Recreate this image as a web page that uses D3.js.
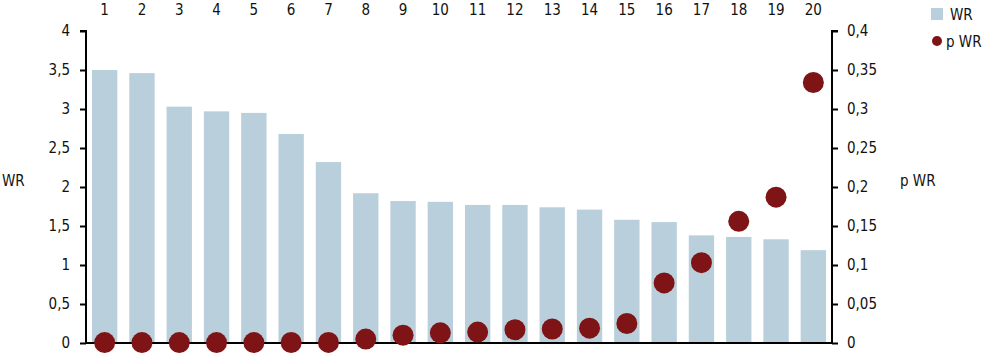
<!DOCTYPE html>
<html>
<head>
<meta charset="utf-8">
<script src="https://cdn.jsdelivr.net/npm/d3@7"></script>
<style>
  body { margin: 0; background: #fff; }
  svg text { font-family: "Liberation Sans Narrow", "DejaVu Sans Condensed", sans-serif; font-size: 15px; fill: #111; }
</style>
</head>
<body>
<svg id="chart" width="986" height="354"></svg>
<script>
// Categories (rank 1..20)
var Categories = ["1","2","3","4","5","6","7","8","9","10","11","12","13","14","15","16","17","18","19","20"];
// WR values (bars, left axis)
var WRValues = [3.50, 3.46, 3.03, 2.97, 2.95, 2.68, 2.32, 1.92, 1.82, 1.81, 1.77, 1.77, 1.74, 1.71, 1.58, 1.55, 1.38, 1.36, 1.33, 1.19];
// p WR values (dots, right axis)
var PWRValues = [0.0005, 0.0005, 0.0005, 0.0005, 0.0005, 0.0007, 0.0008, 0.005, 0.010, 0.013, 0.014, 0.017, 0.018, 0.019, 0.025, 0.077, 0.103, 0.156, 0.187, 0.334];
// Tick labels
var LeftTicks = [0, 0.5, 1, 1.5, 2, 2.5, 3, 3.5, 4];
var RightTicks = [0, 0.05, 0.1, 0.15, 0.2, 0.25, 0.3, 0.35, 0.4];

var BarColor = "#b9d0dc";
var DotColor = "#7f1416";
var Comma = (V) => String(V).replace(".", ",");

var Svg = d3.select("#chart");
var Left = 86, Right = 832, Top = 31, Bottom = 343;

var X = d3.scaleBand().domain(Categories).range([Left, Right]).paddingInner(0.32).paddingOuter(0.16);
var YLeft = d3.scaleLinear().domain([0, 4]).range([Bottom, Top]);
var YRight = d3.scaleLinear().domain([0, 0.4]).range([Bottom, Top]);

// Bars
Svg.append("g").selectAll("rect").data(WRValues).join("rect")
    .attr("x", (D, I) => X(Categories[I]))
    .attr("y", (D) => YLeft(D))
    .attr("width", X.bandwidth())
    .attr("height", (D) => Bottom - YLeft(D))
    .attr("fill", BarColor);

// Left axis
var AxisLeft = Svg.append("g").attr("transform", `translate(${Left},0)`)
    .call(d3.axisLeft(YLeft).tickValues(LeftTicks).tickSize(6).tickPadding(10).tickFormat(Comma));
AxisLeft.select(".domain").attr("stroke", "#000").attr("stroke-width", 2).attr("d", `M-6,${Top}H0V${Bottom}`);
AxisLeft.selectAll(".tick line").attr("stroke", "#000").attr("stroke-width", 2);
AxisLeft.selectAll(".tick text").attr("font-size", null).attr("font-family", null).attr("fill", "#111");

// Right axis
var AxisRight = Svg.append("g").attr("transform", `translate(${Right},0)`)
    .call(d3.axisRight(YRight).tickValues(RightTicks).tickSize(6).tickPadding(9).tickFormat(Comma));
AxisRight.select(".domain").attr("stroke", "#000").attr("stroke-width", 2).attr("d", `M6,${Top}H0V${Bottom}`);
AxisRight.selectAll(".tick line").attr("stroke", "#000").attr("stroke-width", 2);
AxisRight.selectAll(".tick text").attr("font-size", null).attr("font-family", null).attr("fill", "#111");

// Baseline
Svg.append("line").attr("x1", Left).attr("x2", Right).attr("y1", Bottom).attr("y2", Bottom)
    .attr("stroke", "#000").attr("stroke-width", 2);

// Top category labels
var AxisTop = Svg.append("g").attr("transform", `translate(0,15)`)
    .call(d3.axisTop(X).tickSize(0).tickPadding(0));
AxisTop.select(".domain").remove();
AxisTop.selectAll(".tick text").attr("font-size", null).attr("font-family", null).attr("fill", "#111");

// Dots
Svg.append("g").selectAll("circle").data(PWRValues).join("circle")
    .attr("cx", (D, I) => X(Categories[I]) + X.bandwidth() / 2)
    .attr("cy", (D) => YRight(D))
    .attr("r", 10.5)
    .attr("fill", DotColor);

// Axis titles
Svg.append("text").attr("x", 2).attr("y", 186).text("WR");
Svg.append("text").attr("x", 900).attr("y", 186).text("p WR");

// Legend
var Legend = Svg.append("g");
Legend.append("rect").attr("x", 931).attr("y", 8).attr("width", 12).attr("height", 12).attr("fill", BarColor);
Legend.append("text").attr("x", 950).attr("y", 20).text("WR");
Legend.append("circle").attr("cx", 937).attr("cy", 41).attr("r", 5).attr("fill", DotColor);
Legend.append("text").attr("x", 946).attr("y", 47).text("p WR");
</script>
</body>
</html>
